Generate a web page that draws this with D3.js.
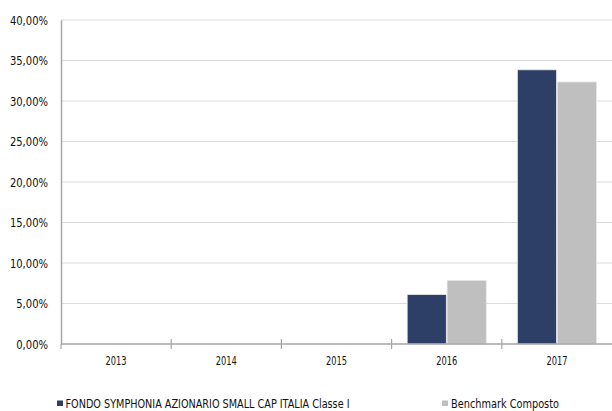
<!DOCTYPE html>
<html>
<head>
<meta charset="utf-8">
<script src="https://cdn.jsdelivr.net/npm/d3@7"></script>
<style>
  body { margin: 0; background: #fff; }
  svg text { font-family: "Liberation Sans Narrow", "DejaVu Sans Condensed", sans-serif; fill: #111; }
</style>
</head>
<body>
<div id="graf"></div>
<script>
// Data
const anni = ["2013", "2014", "2015", "2016", "2017"]
const fondo = [null, null, null, 6.1, 33.85]
const benchmark = [null, null, null, 7.85, 32.35]
const ticksY = [0, 5, 10, 15, 20, 25, 30, 35, 40]
const serie = [
  { nome: "FONDO SYMPHONIA AZIONARIO SMALL CAP ITALIA Classe I", valori: fondo, colore: "#2d3f66" },
  { nome: "Benchmark Composto", valori: benchmark, colore: "#bfbfbf" },
]

const anchoTotal = 612
const altoTotal = 411
const margins = { left: 61, top: 20, right: 0, bottom: 67 }
const ancho = anchoTotal - margins.left - margins.right
const alto = altoTotal - margins.top - margins.bottom

const svg = d3.select("#graf")
  .append("svg")
  .attr("width", anchoTotal)
  .attr("height", altoTotal)

const g = svg.append("g")
  .attr("transform", `translate(${margins.left}, ${margins.top})`)

// Escaladores
const x = d3.scaleBand().domain(anni).range([0, ancho])
const x1 = d3.scaleBand()
  .domain(serie.map(d => d.nome))
  .range([0, x.bandwidth()])
  .paddingOuter(0.39)
  .paddingInner(0.02)
const y = d3.scaleLinear().domain([0, 40]).range([alto, 0])

const fmt = v => d3.format(".2f")(v).replace(".", ",") + "%"

// griglia
g.selectAll(".grid")
  .data(ticksY.slice(1))
  .join("line")
  .attr("x1", 0)
  .attr("x2", ancho)
  .attr("y1", d => y(d))
  .attr("y2", d => y(d))
  .attr("stroke", "#dcdcdc")
  .attr("stroke-width", 1)

// barre
serie.forEach(s => {
  g.append("g")
    .selectAll("rect")
    .data(anni.map((a, i) => ({ anno: a, v: s.valori[i] })).filter(d => d.v != null))
    .join("rect")
    .attr("x", d => x(d.anno) + x1(s.nome))
    .attr("y", d => y(d.v))
    .attr("width", x1.bandwidth())
    .attr("height", d => y(0) - y(d.v))
    .attr("fill", s.colore)
    .attr("stroke", "#e6e6e6")
    .attr("stroke-width", 0.8)
})

// asse y
const assey = g.append("g")
  .call(d3.axisLeft(y).tickValues(ticksY).tickFormat(fmt).tickSize(0).tickPadding(13))
assey.select(".domain").attr("stroke", "#a6a6a6").attr("stroke-width", 1.5)
assey.selectAll("text")
  .style("font-size", "13px")
  .attr("textLength", function () { return this.textContent.length * 6.35 })
  .attr("lengthAdjust", "spacingAndGlyphs")

// asse x
const assex = g.append("g").attr("transform", `translate(0, ${alto})`)
assex.append("line")
  .attr("x1", 0).attr("x2", ancho)
  .attr("stroke", "#a6a6a6").attr("stroke-width", 1.5)
assex.selectAll(".tick")
  .data(anni)
  .join("line")
  .attr("x1", d => x(d))
  .attr("x2", d => x(d))
  .attr("y1", (d, i) => (i === 0 ? 0 : -5))
  .attr("y2", 5)
  .attr("stroke", "#a6a6a6")
  .attr("stroke-width", 1.2)
assex.selectAll("text")
  .data(anni)
  .join("text")
  .attr("x", d => x(d) + x.bandwidth() / 2 - 10.5)
  .attr("y", 21)
  .attr("textLength", 21)
  .attr("lengthAdjust", "spacingAndGlyphs")
  .style("font-size", "13px")
  .text(d => d)

// legenda
const legenda = [
  { x: 57, w: 6, tx: 65.5, tl: 284 },
  { x: 442, w: 6, tx: 451, tl: 108 },
]
serie.forEach((s, i) => {
  const l = legenda[i]
  svg.append("rect")
    .attr("x", l.x).attr("y", 400.5)
    .attr("width", l.w).attr("height", 5.5)
    .attr("fill", s.colore)
  svg.append("text")
    .attr("x", l.tx).attr("y", 407.5)
    .attr("textLength", l.tl)
    .attr("lengthAdjust", "spacingAndGlyphs")
    .style("font-size", "11.5px")
    .text(s.nome)
})
</script>
</body>
</html>
